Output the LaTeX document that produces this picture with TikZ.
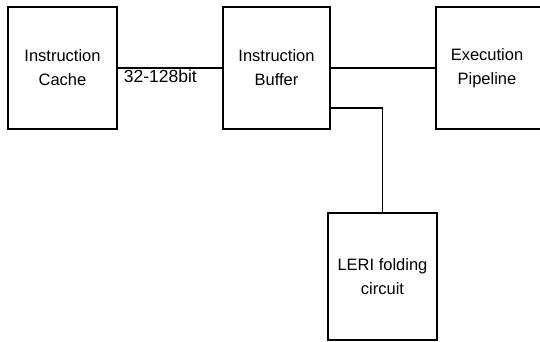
\documentclass[tikz,border=0pt]{standalone}
\usepackage{fontspec}
\setmainfont{Liberation Sans}
\usepackage{tikz}
\usetikzlibrary{positioning,calc}
\tikzset{
  unitbox/.style={draw=black, line width=1.4pt, fill=white, inner sep=0pt, align=center,
    minimum width=109, minimum height=122},
  wire/.style={draw=black, line width=1.4pt},
}

\begin{document}
\begin{tikzpicture}[x=1pt,y=1pt,font=\fontsize{16.5}{24}\selectfont]
  \useasboundingbox (0,0) rectangle (540,342);
  \clip (0,0) rectangle (540,342);
  \node[unitbox] (cache) at (62.5,274) {Instruction\\Cache};
  \node[unitbox, minimum width=107] (buf) at (276.5,274) {Instruction\\Buffer};
  \node[unitbox, minimum width=124] (pipe) at (498,274) {};
  \node[align=center, inner sep=0pt] (pipetext) at (487,274) {Execution\\Pipeline};
  \node[unitbox, minimum height=127] (leri) at (382.5,65.5) {LERI folding\\circuit};
  \coordinate (tap) at ([yshift=-40]buf.east);
  \draw[wire] (cache.east) -- (buf.west);
  \draw[wire] (buf.east) -- (pipe.west);
  \draw[wire] (tap) -| (leri.north);
  \node[anchor=north west, inner sep=0pt, font=\fontsize{17.5}{20}\selectfont]
    (width) at ([xshift=6,yshift=-2]cache.east) {32-128bit};
\end{tikzpicture}
\end{document}
